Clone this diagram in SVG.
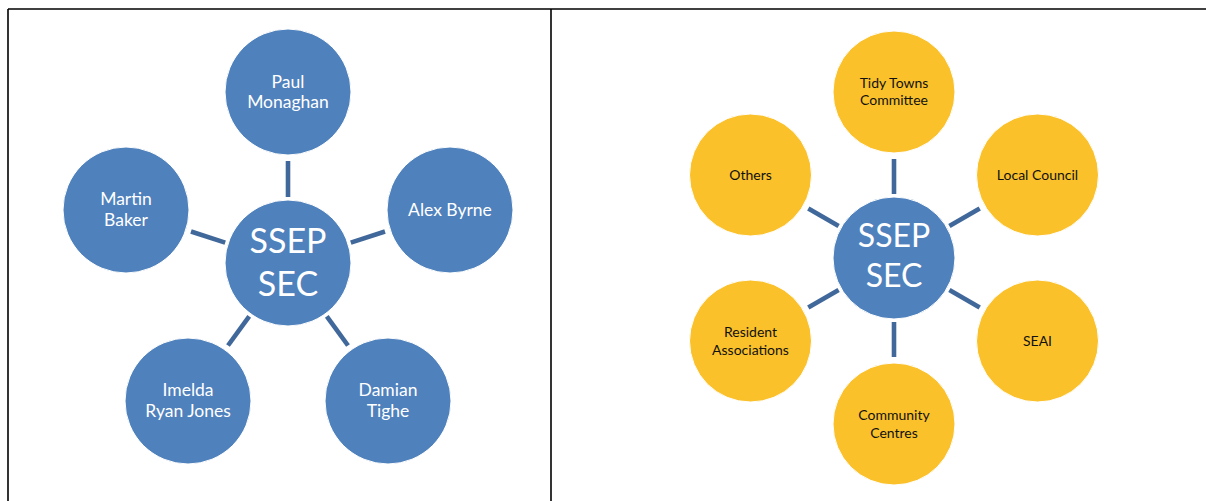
<svg xmlns="http://www.w3.org/2000/svg" width="1206" height="501" viewBox="0 0 1206 501">
<style>
.frame{stroke:#000;stroke-width:1.6;fill:none}
.blue{fill:#4f81bd;stroke:#fff;stroke-width:1}
.gold{fill:#fbc12a;stroke:#fff;stroke-width:1}
.spoke{stroke:#41689a;stroke-width:4.6;fill:none}
.wt{font-family:Lato,"Liberation Sans",sans-serif;fill:#fff;text-anchor:middle;font-size:17.5px}
.bt{font-family:Lato,"Liberation Sans",sans-serif;fill:#111;text-anchor:middle;font-size:14px}
.ct{font-family:Lato,"Liberation Sans",sans-serif;fill:#fff;text-anchor:middle}
</style>
<rect width="1206" height="501" fill="#fff"/>
<g id="table">
<line class="frame" x1="8" y1="9" x2="1206" y2="9"/>
<line class="frame" x1="8" y1="9" x2="8" y2="501"/>
<line class="frame" x1="551" y1="9" x2="551" y2="501"/>
</g>
<g id="connectors">
<line class="spoke" x1="288" y1="197" x2="288" y2="161"/>
<line class="spoke" x1="350.8" y1="242.6" x2="385" y2="231.5"/>
<line class="spoke" x1="326.8" y1="316.4" x2="348" y2="345.5"/>
<line class="spoke" x1="249.2" y1="316.4" x2="228" y2="345.5"/>
<line class="spoke" x1="225.2" y1="242.6" x2="191" y2="231.5"/>
<line class="spoke" x1="894" y1="194" x2="894" y2="159"/>
<line class="spoke" x1="949.4" y1="226" x2="979.7" y2="208.5"/>
<line class="spoke" x1="949.4" y1="290" x2="979.7" y2="307.5"/>
<line class="spoke" x1="894" y1="322" x2="894" y2="357"/>
<line class="spoke" x1="838.6" y1="290" x2="808.3" y2="307.5"/>
<line class="spoke" x1="838.6" y1="226" x2="808.3" y2="208.5"/>
</g>
<g id="left-center"><circle class="blue" cx="288" cy="263" r="63"/><text class="ct" font-size="34" x="288" y="253">SSEP</text><text class="ct" font-size="34" x="288" y="296">SEC</text></g>
<g id="paul"><circle class="blue" cx="288" cy="92" r="63"/><text class="wt" x="288" y="88">Paul</text><text class="wt" x="288" y="108">Monaghan</text></g>
<g id="alex"><circle class="blue" cx="450" cy="210" r="63"/><text class="wt" x="450" y="216">Alex Byrne</text></g>
<g id="damian"><circle class="blue" cx="388" cy="401" r="63"/><text class="wt" x="388" y="396">Damian</text><text class="wt" x="388" y="417">Tighe</text></g>
<g id="imelda"><circle class="blue" cx="188" cy="401" r="63"/><text class="wt" x="188" y="396">Imelda</text><text class="wt" x="188" y="417">Ryan Jones</text></g>
<g id="martin"><circle class="blue" cx="126" cy="210" r="63"/><text class="wt" x="126" y="205">Martin</text><text class="wt" x="126" y="226">Baker</text></g>
<g id="right-center"><circle class="blue" cx="894" cy="258" r="61"/><text class="ct" font-size="32" x="894" y="247">SSEP</text><text class="ct" font-size="32" x="894" y="287">SEC</text></g>
<g id="tidy"><circle class="gold" cx="894" cy="92" r="61"/><text class="bt" x="894" y="88">Tidy Towns</text><text class="bt" x="894" y="105">Committee</text></g>
<g id="council"><circle class="gold" cx="1037.5" cy="175" r="61"/><text class="bt" x="1037.5" y="180">Local Council</text></g>
<g id="seai"><circle class="gold" cx="1037.5" cy="341" r="61"/><text class="bt" x="1037.5" y="346">SEAI</text></g>
<g id="community"><circle class="gold" cx="894" cy="424" r="61"/><text class="bt" x="894" y="420">Community</text><text class="bt" x="894" y="438">Centres</text></g>
<g id="resident"><circle class="gold" cx="750.5" cy="341" r="61"/><text class="bt" x="750.5" y="337">Resident</text><text class="bt" x="750.5" y="355">Associations</text></g>
<g id="others"><circle class="gold" cx="750.5" cy="175" r="61"/><text class="bt" x="750.5" y="180">Others</text></g>
</svg>
